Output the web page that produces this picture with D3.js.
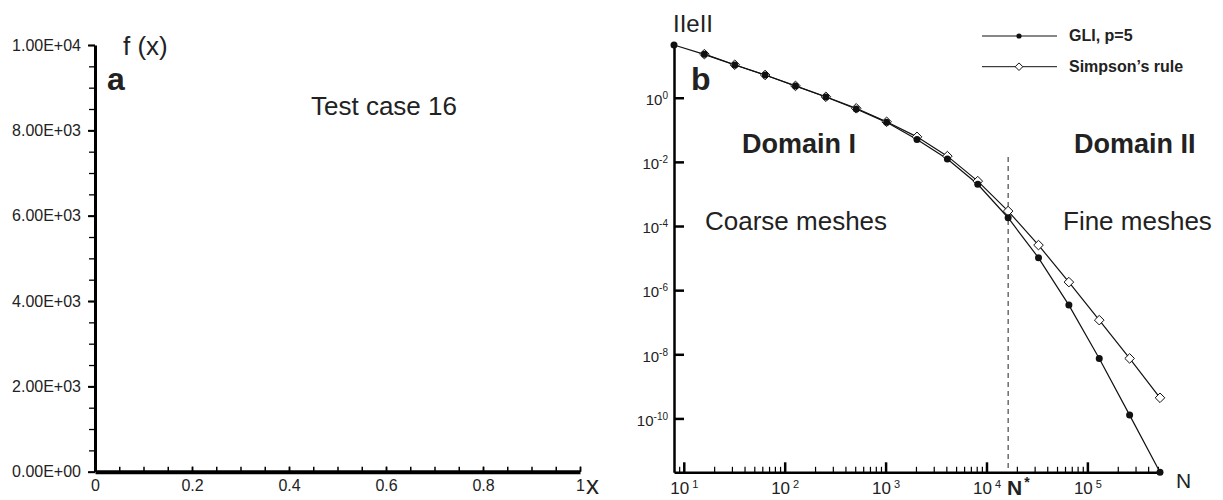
<!DOCTYPE html>
<html>
<head>
<meta charset="utf-8">
<script src="https://cdn.jsdelivr.net/npm/d3@7"></script>
<style>
  body { margin: 0; background: #fff; }
  svg { font-family: "Liberation Sans", Arial, sans-serif; }
</style>
</head>
<body>
<div id="canvas"></div>
<script>
// panel a
const fxTicks = [0, 2000, 4000, 6000, 8000, 10000]
const fxTickLabels = ["0.00E+00", "2.00E+03", "4.00E+03", "6.00E+03", "8.00E+03", "1.00E+04"]
const xaTicks = [0, 0.2, 0.4, 0.6, 0.8, 1]
const xaTickLabels = ["0", "0.2", "0.4", "0.6", "0.8", "1"]

// panel b
const meshN = [8, 16, 32, 64, 128, 256, 512, 1024, 2048, 4096, 8192, 16384, 32768, 65536, 131072, 262144, 524288]
const gliErr = [44.1, 22.6, 10.5, 5.1, 2.32, 1.05, 0.447, 0.171, 0.0501, 0.0123, 2.0e-3, 1.81e-4, 1.02e-5, 3.42e-7, 7.43e-9, 1.27e-10, 2.09e-12]
const simpsonN = [16, 32, 64, 128, 256, 512, 1024, 2048, 4096, 8192, 16384, 32768, 65536, 131072, 262144, 524288]
const simpsonErr = [22.9, 10.7, 5.13, 2.34, 1.07, 0.468, 0.178, 0.0603, 0.0151, 2.51e-3, 2.92e-4, 2.54e-5, 1.78e-6, 1.16e-7, 7.43e-9, 4.40e-10]
const nStar = 16384
const errTicks = [1, 1e-2, 1e-4, 1e-6, 1e-8, 1e-10]
const errTickExp = ["0", "-2", "-4", "-6", "-8", "-10"]
const nTicks = [10, 100, 1000, 10000, 100000]
const nTickExp = ["1", "2", "3", "4", "5"]

const width = 1223
const height = 500
const svg = d3.select("#canvas").append("svg")
    .attr("width", width)
    .attr("height", height)

// ---------- panel a ----------
const xa = d3.scaleLinear().domain([0, 1]).range([95, 580])
const ya = d3.scaleLinear().domain([0, 10000]).range([471.7, 45])

const ga = svg.append("g")

// minor y ticks
ga.append("g")
    .attr("transform", `translate(${xa(0)},0)`)
    .call(d3.axisLeft(ya).tickValues(d3.range(0, 10001, 500)).tickSize(6).tickFormat(""))
    .call(g => g.select(".domain").remove())
    .call(g => g.selectAll("line").attr("stroke-width", 1.3))

ga.append("g")
    .attr("transform", `translate(${xa(0)},0)`)
    .call(d3.axisLeft(ya).tickValues(fxTicks).tickSize(7).tickSizeOuter(0).tickPadding(7)
        .tickFormat((d, i) => fxTickLabels[i]))
    .call(g => g.select(".domain").attr("stroke-width", 3))
    .call(g => g.selectAll("line").attr("stroke-width", 2))
    .call(g => g.selectAll("text").attr("font-size", "16px").attr("fill", "#222"))

// minor x ticks (pointing up)
ga.append("g")
    .attr("transform", `translate(0,${ya(0)})`)
    .call(d3.axisBottom(xa).tickValues(d3.range(0, 1.0001, 0.05)).tickSize(-5).tickFormat(""))
    .call(g => g.select(".domain").remove())
    .call(g => g.selectAll("line").attr("stroke-width", 1.5))

ga.append("g")
    .attr("transform", `translate(0,${ya(0)})`)
    .call(d3.axisBottom(xa).tickValues(xaTicks).tickSize(-5).tickSizeOuter(0).tickPadding(8)
        .tickFormat((d, i) => xaTickLabels[i]))
    .call(g => g.select(".domain").attr("stroke-width", 4))
    .call(g => g.selectAll("line").attr("stroke-width", 1.5))
    .call(g => g.selectAll("text").attr("font-size", "16px").attr("fill", "#222"))

ga.append("text").attr("x", 123).attr("y", 55).attr("font-size", "26px").attr("fill", "#222").text("f (x)")
ga.append("text").attr("x", 107).attr("y", 90).attr("font-size", "32px").attr("font-weight", "bold").attr("fill", "#222").text("a")
ga.append("text").attr("x", 311).attr("y", 115).attr("font-size", "26px").attr("fill", "#222").text("Test case 16")
ga.append("text").attr("x", 586).attr("y", 494).attr("font-size", "26px").attr("fill", "#222").text("x")

// ---------- panel b ----------
const xb = d3.scaleLog().domain([8, 524288]).range([674, 1160])
const yb = d3.scaleLog().domain([2.09e-12, 44.1]).range([472.3, 45])

const gb = svg.append("g")

// minor x ticks
let minorN = [9]
for (let e = 1; e <= 5; e++) {
    for (let k = 2; k <= 9; k++) {
        const v = k * Math.pow(10, e)
        if (v < 524288) minorN.push(v)
    }
}
gb.append("g")
    .attr("transform", `translate(0,${yb.range()[0]})`)
    .call(d3.axisBottom(xb).tickValues(minorN).tickSize(-5.5).tickFormat(""))
    .call(g => g.select(".domain").remove())
    .call(g => g.selectAll("line").attr("stroke-width", 1.2))

gb.append("g")
    .attr("transform", `translate(0,${yb.range()[0]})`)
    .call(d3.axisBottom(xb).tickValues(nTicks).tickSize(-10).tickSizeOuter(0).tickPadding(10).tickFormat(""))
    .call(g => g.select(".domain").attr("stroke-width", 2.5))
    .call(g => g.selectAll("line").attr("stroke-width", 2.5))
    .call(g => g.selectAll(".tick text").each(function(d, i) {
        const t = d3.select(this).attr("font-size", "17px").attr("fill", "#222")
        t.append("tspan").text("10")
        t.append("tspan").attr("dx", "3").attr("dy", "-0.55em").attr("font-size", "11px").text(nTickExp[i])
    }))

gb.append("g")
    .attr("transform", `translate(${xb.range()[0]},0)`)
    .call(d3.axisLeft(yb).tickValues(errTicks).tickSize(-10).tickSizeOuter(0).tickPadding(6).tickFormat(""))
    .call(g => g.select(".domain").attr("stroke-width", 2.5))
    .call(g => g.selectAll("line").attr("stroke-width", 2.5))
    .call(g => g.selectAll(".tick text").each(function(d, i) {
        const t = d3.select(this).attr("font-size", "15px").attr("fill", "#222").attr("dy", "0.45em")
        t.append("tspan").text("10")
        t.append("tspan").attr("dy", "-0.6em").attr("font-size", "10px").text(errTickExp[i])
    }))

// N* dashed line
gb.append("line")
    .attr("x1", xb(nStar)).attr("x2", xb(nStar))
    .attr("y1", 157).attr("y2", yb.range()[0])
    .attr("stroke", "#222").attr("stroke-width", 1).attr("stroke-dasharray", "5,4")

const gli = meshN.map((n, i) => ({n: n, v: gliErr[i]}))
const simp = simpsonN.map((n, i) => ({n: n, v: simpsonErr[i]}))
const line = d3.line().x(d => xb(d.n)).y(d => yb(d.v))

gb.append("path").datum(gli).attr("d", line).attr("fill", "none").attr("stroke", "#111").attr("stroke-width", 1.2)
gb.append("path").datum(simp).attr("d", line).attr("fill", "none").attr("stroke", "#111").attr("stroke-width", 1.2)

const diamond = (cx, cy, r) => `M${cx},${cy - r}L${cx + r},${cy}L${cx},${cy + r}L${cx - r},${cy}Z`

gb.selectAll(".simp").data(simp).enter().append("path")
    .attr("class", "simp")
    .attr("d", d => diamond(xb(d.n), yb(d.v), 4.8))
    .attr("fill", "#fff").attr("stroke", "#111").attr("stroke-width", 1)

gb.selectAll(".gli").data(gli).enter().append("circle")
    .attr("class", "gli")
    .attr("cx", d => xb(d.n)).attr("cy", d => yb(d.v)).attr("r", 3.5)
    .attr("fill", "#111")

// legend
const legend = [
    {label: "GLI, p=5", y: 36, type: "dot"},
    {label: "Simpson\u2019s rule", y: 66.7, type: "diamond"}
]
legend.forEach(l => {
    gb.append("line").attr("x1", 982).attr("x2", 1057).attr("y1", l.y).attr("y2", l.y)
        .attr("stroke", "#111").attr("stroke-width", 1)
    if (l.type == "dot") {
        gb.append("circle").attr("cx", 1019).attr("cy", l.y).attr("r", 2.6).attr("fill", "#111")
    } else {
        gb.append("path").attr("d", diamond(1019, l.y, 3.8)).attr("fill", "#fff").attr("stroke", "#111")
    }
    gb.append("text").attr("x", 1069).attr("y", l.y + 5).attr("font-size", "16px")
        .attr("font-weight", "bold").attr("fill", "#222").text(l.label)
})

gb.append("text").attr("x", 673).attr("y", 31.7).attr("font-size", "24px").attr("fill", "#222").text("IIeII")
gb.append("text").attr("x", 691).attr("y", 90).attr("font-size", "32px").attr("font-weight", "bold").attr("fill", "#222").text("b")
gb.append("text").attr("x", 742).attr("y", 153).attr("font-size", "27px").attr("font-weight", "bold").attr("fill", "#222").text("Domain I")
gb.append("text").attr("x", 1074).attr("y", 153).attr("font-size", "27px").attr("font-weight", "bold").attr("fill", "#222").text("Domain II")
gb.append("text").attr("x", 705).attr("y", 230).attr("font-size", "26px").attr("fill", "#222").text("Coarse meshes")
gb.append("text").attr("x", 1063).attr("y", 230).attr("font-size", "26px").attr("fill", "#222").text("Fine meshes")
gb.append("text").attr("x", 1176).attr("y", 488).attr("font-size", "21px").attr("fill", "#222").text("N")

const ns = gb.append("text").attr("x", 1007).attr("y", 494.5).attr("font-size", "21px").attr("font-weight", "bold").attr("fill", "#222")
ns.append("tspan").text("N")
ns.append("tspan").attr("dx", "2").attr("dy", "-0.55em").attr("font-size", "14px").text("*")
</script>
</body>
</html>
